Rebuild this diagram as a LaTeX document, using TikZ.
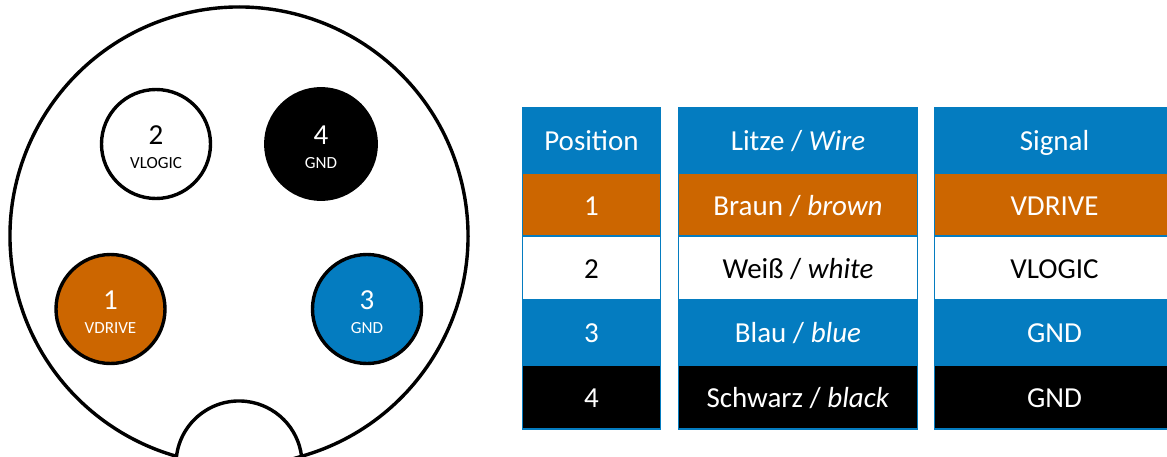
\documentclass[tikz,border=0pt]{standalone}
\usepackage{fontspec}
\setmainfont{Carlito}
\definecolor{wireblue}{HTML}{047CC0}
\definecolor{wirebrown}{HTML}{CC6600}
\tikzset{
    pin/.style={circle,draw=black,line width=3.4pt,minimum size=109pt,inner sep=0pt},
    pinnum/.style={font=\fontsize{29}{29}\selectfont,inner sep=0pt},
    pinsig/.style={font=\fontsize{17}{17}\selectfont,inner sep=0pt},
    cell/.style={draw=wireblue,line width=1.2pt,minimum height=64pt,inner sep=0pt,text height=25pt,text depth=5pt,font=\fontsize{29}{29}\selectfont},
    headcell/.style={cell,minimum height=66pt,fill=wireblue,text=white},
    browncell/.style={cell,fill=wirebrown,text=white},
    whitecell/.style={cell,fill=white,text=black},
    bluecell/.style={cell,fill=wireblue,text=white},
    blackcell/.style={cell,fill=black,text=white}
}
\begin{document}
\begin{tikzpicture}[x=1pt,y=1pt]
    \useasboundingbox (0,0) rectangle (1167,456);
    % Connector %
    \draw[line width=3.4pt,fill=white] (239,220) ++(-74.16:229) arc[start angle=-74.16,end angle=254.16,radius=229]
        arc[start angle=173,end angle=7,radius=63] -- cycle;

    % Pins %
    \node[pin,fill=wirebrown] (pinA) at (110.5,147) {};
    \node[pin,fill=white] (pinB) at (156,312) {};
    \node[pin,fill=wireblue] (pinC) at (367,147) {};
    \node[pin,fill=black,minimum size=110.5pt] (pinD) at (321,312) {};
    \foreach \p/\n/\s/\c in {pinA/1/VDRIVE/white,pinB/2/VLOGIC/black,pinC/3/GND/white,pinD/4/GND/white} {
        \node[pinnum,text=\c] at ([yshift=9pt]\p.center) {\n};
        \node[pinsig,text=\c] at ([yshift=-19pt]\p.center) {\s};
    }

    % Position %
    \foreach \y/\k/\n/\t in {315.5/headcell/posHead/Position,251/browncell/posA/1,188/whitecell/posB/2,124/bluecell/posC/3,59/blackcell/posD/4}
        \node[\k,minimum width=138pt] (\n) at (591.5,\y) {\t};
    % Wire %
    \foreach \y/\k/\n/\t in {315.5/headcell/wireHead/{Litze / \textit{Wire}},251/browncell/wireA/{Braun / \textit{brown}},188/whitecell/wireB/{Weiß / \textit{white}},124/bluecell/wireC/{Blau / \textit{blue}},59/blackcell/wireD/{Schwarz / \textit{black}}}
        \node[\k,minimum width=239pt] (\n) at (798,\y) {\t};
    % Signal %
    \foreach \y/\k/\n/\t in {315.5/headcell/sigHead/Signal,251/browncell/sigA/VDRIVE,188/whitecell/sigB/VLOGIC,124/bluecell/sigC/GND,59/blackcell/sigD/GND}
        \node[\k,minimum width=240pt] (\n) at (1054.5,\y) {\t};
\end{tikzpicture}
\end{document}
